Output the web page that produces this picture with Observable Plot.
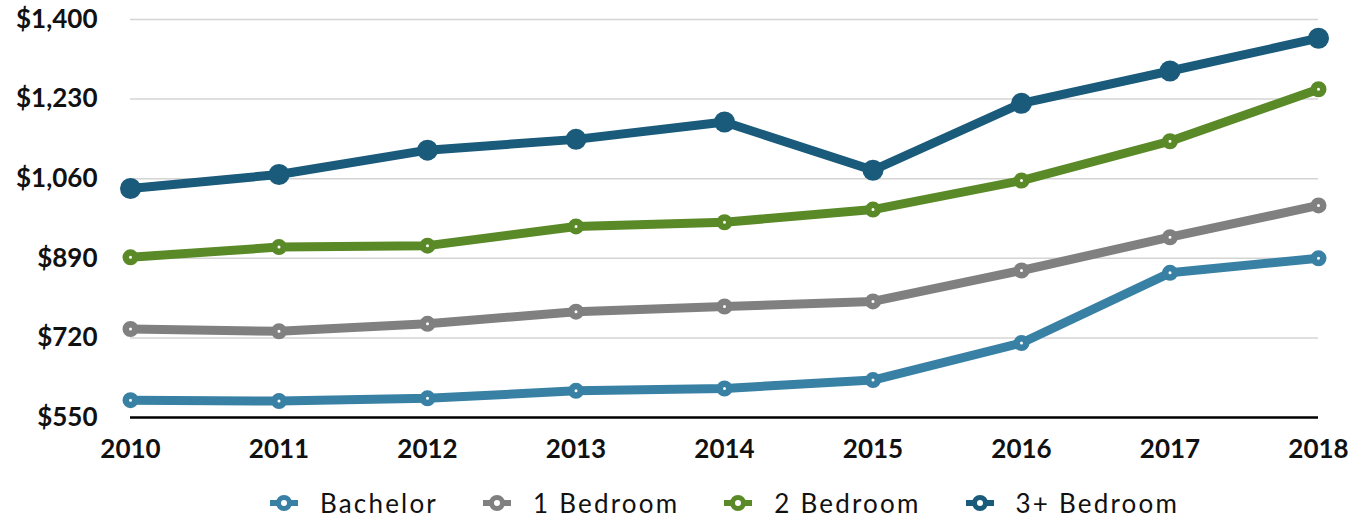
<!DOCTYPE html>
<html>
<head>
<meta charset="utf-8">
<script src="https://cdn.jsdelivr.net/npm/d3@7"></script>
<script src="https://cdn.jsdelivr.net/npm/@observablehq/plot@0.6"></script>
<style>
  html, body { margin: 0; padding: 0; background: #fff; }
  body { width: 1366px; height: 520px; overflow: hidden; font-family: Lato, "Open Sans", sans-serif; }
  #legend { display: flex; justify-content: center; align-items: center; height: 56px; padding-left: 130px; padding-right: 48px; box-sizing: border-box; width: 1366px; }
  .item { display: flex; align-items: center; margin: 0 22px; }
  .item svg { margin-right: 21px; }
  .item span { font-size: 26px; font-weight: 400; letter-spacing: 2.2px; color: #111; }
</style>
</head>
<body>
<div id="chart"></div>
<div id="legend"></div>
<script>
const years = [2010, 2011, 2012, 2013, 2014, 2015, 2016, 2017, 2018];
const seriesNames = ["Bachelor", "1 Bedroom", "2 Bedroom", "3+ Bedroom"];
const bachelor = [587, 585, 591, 607, 612, 630, 709, 859, 890];
const oneBed   = [739, 734, 750, 776, 787, 798, 864, 935, 1003];
const twoBed   = [892, 914, 917, 958, 967, 994, 1056, 1140, 1251];
const threeBed = [1039, 1069, 1121, 1144, 1181, 1078, 1221, 1290, 1360];
const colors = ["#3880a4", "#808080", "#5a8a28", "#1a5a7a"];
const yTicks = [550, 720, 890, 1060, 1230, 1400];

const values = [bachelor, oneBed, twoBed, threeBed];
const data = [];
seriesNames.forEach((s, i) => years.forEach((y, j) => data.push({series: s, year: y, value: values[i][j]})));
const ringData = data.filter(d => d.series !== "3+ Bedroom");
const fillData = data.filter(d => d.series === "3+ Bedroom");

const fmt = d3.format(",");
const chart = Plot.plot({
  width: 1366,
  height: 475,
  marginLeft: 130,
  marginRight: 48,
  marginTop: 19,
  marginBottom: 58,
  style: {fontFamily: "Lato, 'Open Sans', sans-serif", fontWeight: 700, fontSize: "26px", color: "#111", background: "#fff"},
  x: {domain: [2010, 2018], label: null},
  y: {domain: [550, 1400], label: null},
  color: {domain: seriesNames, range: colors},
  marks: [
    Plot.ruleY(yTicks.slice(1), {stroke: "#d4d4d4", strokeWidth: 1.5}),
    Plot.ruleY([550], {stroke: "#000", strokeWidth: 2.5}),
    Plot.axisY({ticks: yTicks, tickFormat: d => "$" + fmt(d), tickSize: 0, tickPadding: 33, fontSize: 26, fontWeight: 700, letterSpacing: 2, label: null}),
    Plot.axisX({ticks: years, tickFormat: d => String(d), tickSize: 0, tickPadding: 22, fontSize: 26, fontWeight: 700, letterSpacing: 2.5, label: null}),
    Plot.line(data, {x: "year", y: "value", z: "series", stroke: "series", strokeWidth: 9, strokeLinejoin: "round"}),
    Plot.dot(ringData, {x: "year", y: "value", stroke: "series", fill: "#fff", r: 4.75, strokeWidth: 6.5}),
    Plot.dot(fillData, {x: "year", y: "value", fill: "series", r: 10.5})
  ]
});
document.getElementById("chart").appendChild(chart);

const legend = d3.select("#legend");
seriesNames.forEach((s, i) => {
  const item = legend.append("div").attr("class", "item");
  const svg = item.append("svg").attr("width", 30).attr("height", 24);
  svg.append("line").attr("x1", 1).attr("x2", 29).attr("y1", 12).attr("y2", 12).attr("stroke", colors[i]).attr("stroke-width", 6);
  svg.append("circle").attr("cx", 15).attr("cy", 12).attr("r", 5.5).attr("fill", "#fff").attr("stroke", colors[i]).attr("stroke-width", 5);
  item.append("span").text(s);
});
</script>
</body>
</html>
